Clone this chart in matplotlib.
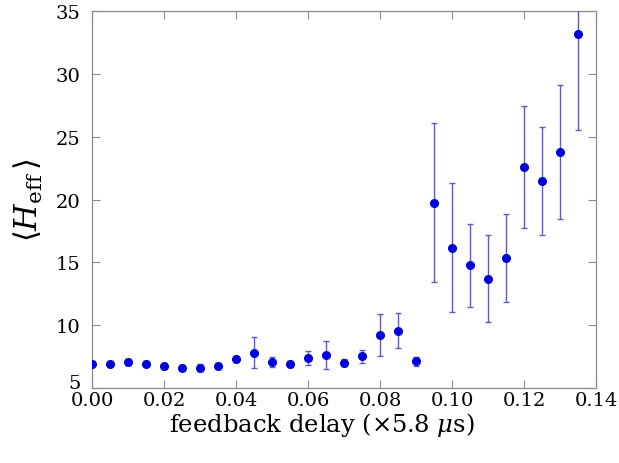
import numpy as np
import matplotlib
matplotlib.use("Agg")
import matplotlib.pyplot as plt

plt.rcParams["font.family"] = ["DejaVu Serif"]
plt.rcParams["mathtext.fontset"] = "dejavuserif"

# 遅延時間 (x5.8 us)
delay = [0.000, 0.005, 0.010, 0.015, 0.020, 0.025, 0.030, 0.035, 0.040, 0.045,
         0.050, 0.055, 0.060, 0.065, 0.070, 0.075, 0.080, 0.085, 0.090, 0.095,
         0.100, 0.105, 0.110, 0.115, 0.120, 0.125, 0.130, 0.135]
# <H_eff> の平均値
h_eff = [6.95, 6.95, 7.07, 6.92, 6.75, 6.6, 6.62, 6.77, 7.3, 7.82,
         7.08, 6.9, 7.4, 7.65, 7.03, 7.53, 9.22, 9.57, 7.13, 19.75,
         16.18, 14.75, 13.7, 15.35, 22.58, 21.5, 23.8, 33.2]
# 誤差
h_err = [0.2, 0.2, 0.25, 0.2, 0.2, 0.2, 0.3, 0.25, 0.25, 1.2,
         0.4, 0.25, 0.55, 1.1, 0.3, 0.5, 1.7, 1.4, 0.35, 6.3,
         5.1, 3.3, 3.45, 3.5, 4.85, 4.3, 5.35, 7.7]

fig = plt.figure(figsize=(6.19, 4.64), dpi=100)
ax = fig.add_axes([0.1486, 0.1616, 0.8144, 0.8125])

ax.errorbar(delay, h_eff, yerr=h_err, fmt="o", color="#0000dd", markersize=5.5,
            ecolor="#5c5cc8", elinewidth=1.0, capsize=2.5, capthick=1.0, zorder=3)

ax.set_xlim(0, 0.14)
ax.set_ylim(5, 35)
ax.set_xticks(np.arange(0, 0.141, 0.02))
ax.set_xticklabels(["%.2f" % v for v in np.arange(0, 0.141, 0.02)])
ax.set_yticks(range(5, 36, 5))

for s in ax.spines.values():
    s.set_color("#8a8a8a")
    s.set_linewidth(0.9)
ax.tick_params(direction="in", top=True, right=True, length=5.5, width=0.8,
               color="#8a8a8a", labelsize=14)
ax.tick_params(axis="x", pad=2)
ax.tick_params(axis="y", pad=8)

# 一番下の「5」は0.00と重ならないよう少し上に置く
ax.get_yticklabels()[0].set_verticalalignment("baseline")

ax.set_xlabel(r"feedback delay ($\times$5.8 $\mu$s)", fontsize=17.5)
ax.xaxis.set_label_coords(0.456, -0.057, transform=ax.transAxes)
ax.xaxis.label.set_verticalalignment("top")
ax.set_ylabel(r"$\langle H_{\rm eff}\,\rangle$", fontsize=22, labelpad=8)

fig.savefig("out.png", dpi=100)
